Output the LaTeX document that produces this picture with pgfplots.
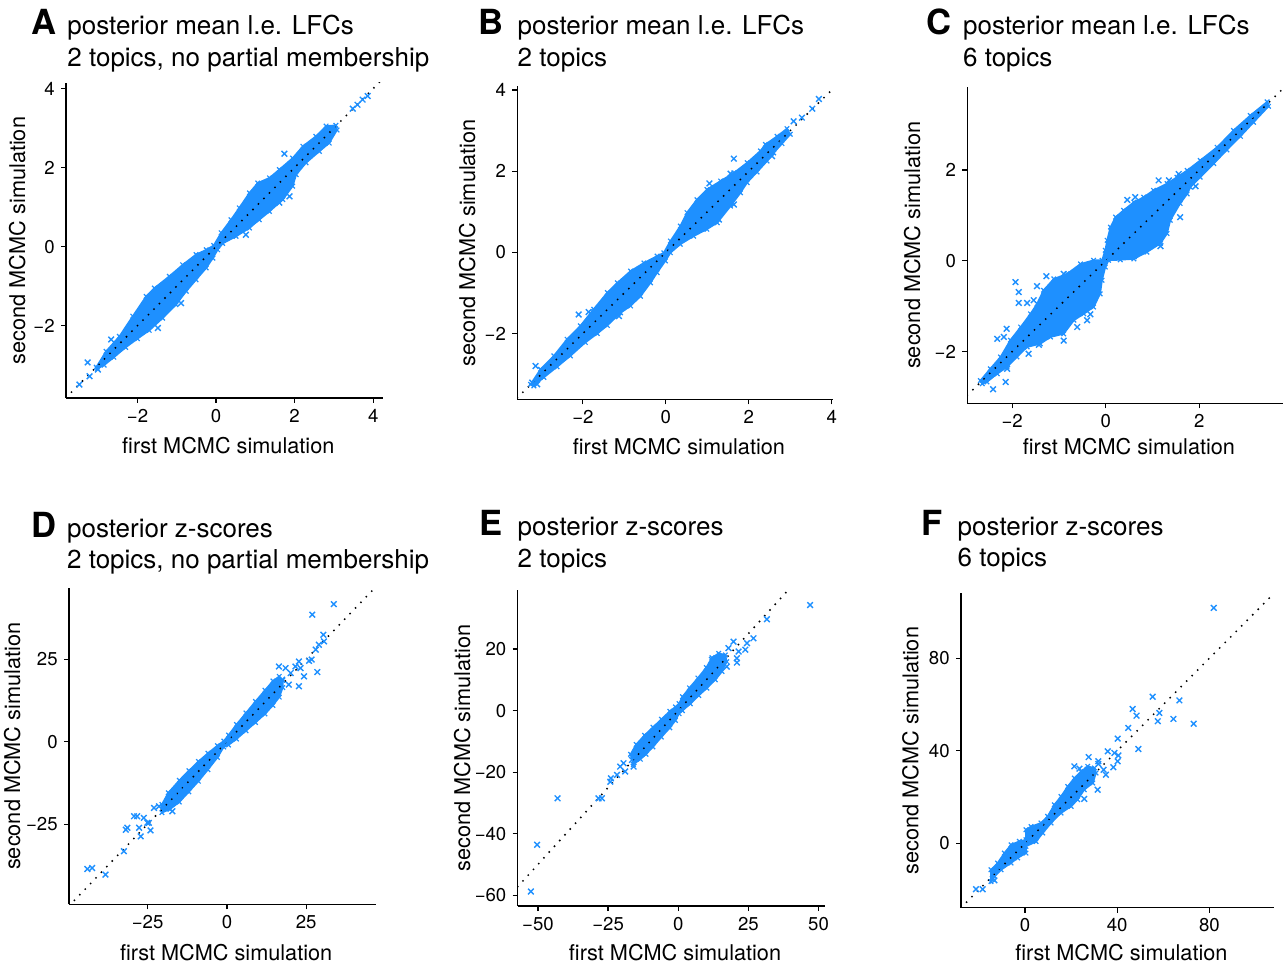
\documentclass[border=0pt]{standalone}
\usepackage{pgfplots}
\pgfplotsset{compat=1.18}
\usepackage{fontspec}
\setmainfont{TeX Gyre Heros}
\definecolor{dblue}{RGB}{30,144,255}
\pgfplotsset{
  panel/.style={
    scale only axis,
    anchor=south west,
    axis x line*=bottom,
    axis y line*=left,
    axis line style={line width=0.6pt, black},
    tick align=outside,
    major tick length=2.5pt,
    tick style={line width=0.6pt, black},
    minor tick num=0,
    tick label style={font=\fontsize{9.3}{11}\selectfont},
    xticklabel style={anchor=base, inner sep=0pt, yshift=-9.6pt},
    yticklabel style={anchor=east, inner sep=0pt, xshift=-3pt},
    label style={font=\fontsize{10.85}{13}\selectfont, inner sep=0pt},
    xlabel={first MCMC simulation},
    ylabel={second MCMC simulation},
  },
  cloud/.style={fill=dblue, draw=dblue, line width=0.8pt, mark=x, mark size=1.6pt, mark options={line width=0.6pt, solid}},
  outl/.style={only marks, mark=x, draw=dblue, mark size=2pt, mark options={line width=0.7pt, draw=dblue}},
  diag/.style={black, line width=1.05pt, line cap=round, dash pattern=on 0pt off 3.9pt},
}
\newcommand{\ttl}{\fontsize{13}{16}\selectfont}
\newcommand{\lett}{\fontsize{17.3}{20}\selectfont\bfseries}
\begin{document}
\begin{tikzpicture}
\path[use as bounding box] (0,0) rectangle (644pt,482pt);

% ---------------- A ----------------
\begin{axis}[panel, at={(33pt,283pt)}, width=158.5pt, height=157.5pt,
  xmin=-3.82, xmax=4.25, ymin=-3.83, ymax=4.14,
  xtick={-2,0,2,4}, xticklabels={−2,0,2,4},
  ytick={-2,0,2,4}, yticklabels={−2,0,2,4},
  xlabel style={at={(axis description cs:0.512,-0.1765)}, anchor=base},
  ylabel style={at={(axis description cs:-0.1293,0.5)}, anchor=base}]
\addplot[cloud] coordinates {(-3.05,-3.05) (-2.80,-2.65) (-2.46,-2.27) (-2.12,-1.76) (-1.78,-1.26) (-1.57,-1.05) (-1.19,-0.75) (-0.85,-0.46) (-0.51,-0.20) (-0.25,-0.08) (-0.06,0.03) (0.13,0.35) (0.38,0.68) (0.59,0.98) (0.85,1.36) (1.06,1.61) (1.36,1.74) (1.61,1.95) (1.95,2.24) (2.21,2.54) (2.54,2.79) (2.80,3.05) (3.05,3.07)
 (3.08,2.95) (2.88,2.62) (2.63,2.41) (2.29,2.12) (2.04,1.82) (1.95,1.53) (1.70,1.19) (1.36,0.89) (1.10,0.68) (0.85,0.47) (0.51,0.26) (0.17,0.08) (0.04,-0.08) (-0.08,-0.29) (-0.25,-0.54) (-0.51,-0.84) (-0.76,-1.13) (-1.02,-1.47) (-1.36,-1.81) (-1.70,-2.12) (-2.00,-2.33) (-2.30,-2.55) (-2.60,-2.80) (-2.85,-3.00) (-3.02,-3.08)} -- cycle;
\addplot[outl] coordinates {(1.74,2.35) (1.87,1.27) (1.61,1.11) (0.76,0.30) (-1.48,-2.06) (-2.67,-2.35) (-3.27,-2.93) (-3.22,-3.28) (-3.01,-3.11) (-3.48,-3.49) (3.48,3.49) (3.60,3.59) (3.86,3.81) (3.73,3.72) (-0.89,-1.43)};
\addplot[diag] coordinates {(-3.82,-3.82) (4.25,4.25)};
\end{axis}

% ---------------- B ----------------
\begin{axis}[panel, at={(258.65pt,282.35pt)}, width=157.85pt, height=156.65pt,
  xmin=-3.58, xmax=4.03, ymin=-3.62, ymax=4.1,
  xtick={-2,0,2,4}, xticklabels={−2,0,2,4},
  ytick={-2,0,2,4}, yticklabels={−2,0,2,4},
  xlabel style={at={(axis description cs:0.512,-0.1764)}, anchor=base},
  ylabel style={at={(axis description cs:-0.134,0.5)}, anchor=base}]
\addplot[cloud] coordinates {(-3.26,-3.25) (-3.02,-2.88) (-2.70,-2.55) (-2.38,-2.14) (-2.06,-1.81) (-1.74,-1.40) (-1.41,-0.99) (-1.17,-0.75) (-0.85,-0.46) (-0.53,-0.26) (-0.21,-0.09) (-0.05,-0.01) (0.11,0.28) (0.35,0.65) (0.51,0.98) (0.75,1.30) (0.99,1.55) (1.32,1.76) (1.64,1.96) (1.96,2.21) (2.28,2.50) (2.40,2.66) (2.68,2.86) (2.92,3.05)
 (3.00,2.91) (2.80,2.68) (2.60,2.45) (2.44,2.25) (2.20,1.98) (1.96,1.72) (1.80,1.47) (1.56,1.14) (1.24,0.73) (0.99,0.57) (0.67,0.40) (0.35,0.20) (0.11,-0.01) (-0.01,-0.21) (-0.21,-0.50) (-0.37,-0.75) (-0.61,-1.08) (-0.85,-1.32) (-1.09,-1.49) (-1.41,-1.80) (-1.65,-2.00) (-1.94,-2.22) (-2.30,-2.55) (-2.62,-2.82) (-2.94,-3.08) (-3.18,-3.29)} -- cycle;
\addplot[outl] coordinates {(1.64,2.31) (1.56,1.94) (1.05,1.70) (-2.10,-1.53) (-1.86,-1.47) (-3.14,-2.80) (-3.22,-3.21) (-3.10,-3.25) (-1.13,-1.57) (3.69,3.78) (3.53,3.54) (3.08,3.23) (3.28,3.32) (1.64,1.18) (1.28,0.81) (2.56,2.37)};
\addplot[diag] coordinates {(-3.58,-3.58) (4.1,4.1)};
\end{axis}

% ---------------- C ----------------
\begin{axis}[panel, at={(483.65pt,280.35pt)}, width=157.85pt, height=158pt,
  xmin=-2.96, xmax=3.79, ymin=-3.14, ymax=3.82,
  xtick={-2,0,2}, xticklabels={−2,0,2},
  ytick={-2,0,2}, yticklabels={−2,0,2},
  xlabel style={at={(axis description cs:0.512,-0.1623)}, anchor=base},
  ylabel style={at={(axis description cs:-0.1498,0.5)}, anchor=base}]
\addplot[cloud] coordinates {(-2.68,-2.64) (-2.47,-2.38) (-2.25,-2.12) (-2.04,-1.75) (-1.82,-1.46) (-1.61,-1.17) (-1.47,-0.95) (-1.33,-0.65) (-1.11,-0.40) (-0.83,-0.29) (-0.54,-0.07) (-0.26,0.01) (-0.08,0.01) (-0.01,0.23) (0.03,0.45) (0.10,0.74) (0.21,0.96) (0.38,1.11) (0.60,1.29) (0.81,1.40) (1.02,1.55) (1.31,1.70) (1.52,1.84) (1.74,1.99) (2.02,2.21) (2.38,2.50) (2.73,2.87) (3.09,3.20) (3.45,3.50)
 (3.48,3.40) (3.16,3.05) (2.88,2.74) (2.59,2.44) (2.31,2.14) (2.02,1.84) (1.81,1.62) (1.74,1.47) (1.59,1.26) (1.38,0.89) (1.31,0.60) (1.17,0.38) (0.88,0.19) (0.60,0.04) (0.31,0.02) (0.06,0.01) (-0.01,-0.14) (-0.08,-0.43) (-0.12,-0.73) (-0.26,-1.02) (-0.47,-1.17) (-0.68,-1.31) (-0.90,-1.61) (-1.18,-1.68) (-1.40,-1.83) (-1.68,-1.90) (-1.90,-2.12) (-2.11,-2.34) (-2.32,-2.49) (-2.54,-2.67) (-2.64,-2.71)} -- cycle;
\addplot[outl] coordinates {(-1.93,-0.47) (-1.86,-0.69) (-1.86,-0.93) (-1.47,-0.56) (-1.27,-0.34) (-0.90,-0.29) (-1.68,-0.93) (-1.54,-0.87) (-0.47,-1.06) (-0.40,-1.31) (-0.33,-1.18) (-0.61,-1.46) (-0.90,-1.76) (-1.43,-1.85) (-1.65,-2.05) (-2.11,-2.38) (-2.14,-2.67) (-2.41,-2.83) (-2.32,-1.72) (-2.18,-1.68) (-2.12,-1.50) (-1.97,-1.83) (0.46,1.34) (0.63,1.40) (1.13,1.77) (1.35,1.77) (1.59,1.84) (1.59,0.96) (1.17,0.32) (1.92,1.64) (0.60,0.10) (1.56,1.91)};
\addplot[diag] coordinates {(-2.96,-2.96) (3.82,3.82)};
\end{axis}

% ---------------- D ----------------
\begin{axis}[panel, at={(34.5pt,29.85pt)}, width=153.5pt, height=158pt,
  xmin=-49.8, xmax=47, ymin=-49.3, ymax=46.5,
  xtick={-25,0,25}, xticklabels={−25,0,25},
  ytick={-25,0,25}, yticklabels={−25,0,25},
  xlabel style={at={(axis description cs:0.512,-0.1769)}, anchor=base},
  ylabel style={at={(axis description cs:-0.1596,0.5)}, anchor=base}]
\addplot[cloud] coordinates {(-20.5,-19.0) (-18.5,-15.5) (-15,-11.7) (-12,-8.8) (-9,-6.0) (-6,-3.5) (-3,-1.2) (-1,0.2) (0.5,2.0) (3,5.2) (6,8.7) (9,12.2) (12,15.6) (14.5,18.4) (16.5,19.8) (17.6,18.6)
 (17.6,16.4) (16.5,13.5) (14.5,11.0) (12,8.4) (9,5.8) (6,3.3) (3,0.8) (0.5,-1.0) (-1,-1.6) (-3,-4.8) (-6,-8.5) (-9,-12.0) (-12,-15.2) (-15,-18.3) (-18,-20.5) (-20.5,-21.5)} -- cycle;
\addplot[outl] coordinates {(33.7,41.7) (26.9,38.5) (30.4,32.4) (30.6,30.4) (29.0,29.4) (28.0,27.9) (26.7,24.9) (25.9,24.5) (28.5,21.1) (24.3,19.8) (22.7,24.3) (23.2,22.3) (21.6,22.8) (16.4,22.8) (18.5,22.3) (20.1,20.8) (22.7,16.8) (19.5,17.3) (17.4,18.8) (-21.4,-19.6) (-23.0,-20.1) (-17.2,-21.1) (-18.3,-17.6) (-29.3,-22.6) (-28.3,-22.6) (-31.9,-26.7) (-31.4,-26.1) (-26.2,-23.1) (-24.6,-24.6) (-27.7,-26.1) (-27.2,-28.7) (-24.1,-26.9) (-25.1,-24.6) (-32.5,-33.2) (-44.0,-38.6) (-42.5,-38.3) (-38.3,-40.3) (-16.7,-15.2) (-13.0,-14.8)};
\addplot[diag] coordinates {(-49.8,-49.8) (47,47)};
\end{axis}

% ---------------- E ----------------
\begin{axis}[panel, at={(258.85pt,29pt)}, width=153.65pt, height=158pt,
  xmin=-57.2, xmax=52.3, ymin=-63.5, ymax=39.2,
  xtick={-50,-25,0,25,50}, xticklabels={−50,−25,0,25,50},
  ytick={-60,-40,-20,0,20}, yticklabels={−60,−40,−20,0,20},
  xlabel style={at={(axis description cs:0.512,-0.1715)}, anchor=base},
  ylabel style={at={(axis description cs:-0.1552,0.5)}, anchor=base}]
\addplot[cloud] coordinates {(-17,-14.2) (-15,-11.0) (-12,-8.0) (-9,-5.4) (-6,-2.8) (-3,-0.2) (-1,1.2) (0.3,2.3) (1.5,4.5) (4,7.4) (7,10.6) (10,14.0) (12,17.2) (14.4,18.6) (16.8,18.1)
 (17.3,15.9) (15.6,12.7) (13.2,10.0) (10.2,7.3) (7.3,4.9) (4.3,2.2) (1.5,0.0) (0.3,-1.0) (-1,-3.2) (-3,-5.6) (-6,-8.6) (-9,-11.8) (-11.5,-14.2) (-13.5,-15.8) (-16,-17.5)} -- cycle;
\addplot[outl] coordinates {(47.0,34.3) (31.6,29.7) (26.8,23.5) (19.7,22.4) (17.9,20.3) (24.5,21.9) (23.9,19.8) (21.5,19.2) (20.9,17.0) (20.9,15.6) (17.3,14.3) (12.0,16.5) (-15.9,-18.2) (-19.5,-17.1) (-20.7,-18.2) (-24.2,-23.1) (-24.0,-22.0) (-28.4,-28.5) (-27.2,-28.5) (-43.0,-28.5) (-50.3,-43.6) (-52.5,-58.8) (-21.8,-20.9) (-18.9,-19.8) (-16.5,-16.0)};
\addplot[diag] coordinates {(-57.2,-57.2) (39.2,39.2)};
\end{axis}

% ---------------- F ----------------
\begin{axis}[panel, at={(480.5pt,28.15pt)}, width=156.65pt, height=157.2pt,
  xmin=-27.8, xmax=108.2, ymin=-27.8, ymax=108.1,
  xtick={0,40,80}, xticklabels={0,40,80},
  ytick={0,40,80}, yticklabels={0,40,80},
  xlabel style={at={(axis description cs:0.512,-0.167)}, anchor=base},
  ylabel style={at={(axis description cs:-0.1363,0.5)}, anchor=base}]
\addplot[cloud] coordinates {(-14.8,-11.4) (-11.9,-8.5) (-9.0,-4.2) (-6.1,-0.6) (-2.5,0.9) (0.4,1.6) (0.4,5.9) (2.6,7.3) (6.9,8.8) (9.8,11.7) (12.7,16.7) (15.6,20.3) (18.5,24.6) (21.4,28.2) (24.3,31.1) (27.2,33.3) (30.1,32.6)
 (30.8,30.4) (29.4,26.1) (25.7,23.2) (22.8,18.9) (20.0,16.0) (15.6,13.1) (11.3,8.8) (7.7,4.5) (4.8,0.8) (0.4,-1.3) (0.4,-4.2) (-3.2,-6.3) (-6.1,-8.5) (-10.4,-11.4) (-13.3,-14.3) (-14.8,-16.5)} -- cycle;
\addplot[outl] coordinates {(81.9,101.8) (55.4,63.4) (67.0,61.8) (46.7,58.1) (48.4,55.2) (58.3,56.4) (57.6,52.8) (64.4,53.8) (73.2,51.7) (44.8,49.9) (40.2,45.3) (49.2,40.8) (35.9,39.8) (38.8,39.1) (40.5,38.0) (40.2,35.5) (27.6,37.3) (31.8,35.5) (31.8,34.3) (38.3,32.9) (34.1,31.8) (35.1,29.7) (27.2,31.8) (23.6,32.3) (31.5,23.2) (25.7,19.2) (-21.3,-19.8) (-18.4,-19.8) (-14.0,-15.4) (-13.3,-16.0) (21.4,33.3)};
\addplot[diag] coordinates {(-27.8,-27.8) (108.2,108.2)};
\end{axis}

% ---------------- titles ----------------
\node[anchor=base east, inner sep=0pt, font=\lett] at (28.65pt,464.5pt) {A};
\node[anchor=base west, inner sep=0pt, font=\ttl] at (33.5pt,464.5pt) {posterior mean l.e. LFCs};
\node[anchor=base west, inner sep=0pt, font=\ttl] at (33.5pt,448.5pt) {2 topics, no partial membership};

\node[anchor=base east, inner sep=0pt, font=\lett] at (252pt,464.5pt) {B};
\node[anchor=base west, inner sep=0pt, font=\ttl] at (258.65pt,464.5pt) {posterior mean l.e. LFCs};
\node[anchor=base west, inner sep=0pt, font=\ttl] at (258.65pt,448.5pt) {2 topics};

\node[anchor=base east, inner sep=0pt, font=\lett] at (475.85pt,464.5pt) {C};
\node[anchor=base west, inner sep=0pt, font=\ttl] at (481.35pt,464.5pt) {posterior mean l.e. LFCs};
\node[anchor=base west, inner sep=0pt, font=\ttl] at (481.35pt,448.5pt) {6 topics};

\node[anchor=base east, inner sep=0pt, font=\lett] at (28.65pt,213.15pt) {D};
\node[anchor=base west, inner sep=0pt, font=\ttl] at (33.35pt,213.15pt) {posterior z-scores};
\node[anchor=base west, inner sep=0pt, font=\ttl] at (33.35pt,197.5pt) {2 topics, no partial membership};

\node[anchor=base east, inner sep=0pt, font=\lett] at (251.35pt,214pt) {E};
\node[anchor=base west, inner sep=0pt, font=\ttl] at (258.65pt,214pt) {posterior z-scores};
\node[anchor=base west, inner sep=0pt, font=\ttl] at (258.65pt,198.15pt) {2 topics};

\node[anchor=base east, inner sep=0pt, font=\lett] at (471.65pt,214pt) {F};
\node[anchor=base west, inner sep=0pt, font=\ttl] at (478.65pt,214pt) {posterior z-scores};
\node[anchor=base west, inner sep=0pt, font=\ttl] at (478.65pt,198.5pt) {6 topics};
\end{tikzpicture}
\end{document}
